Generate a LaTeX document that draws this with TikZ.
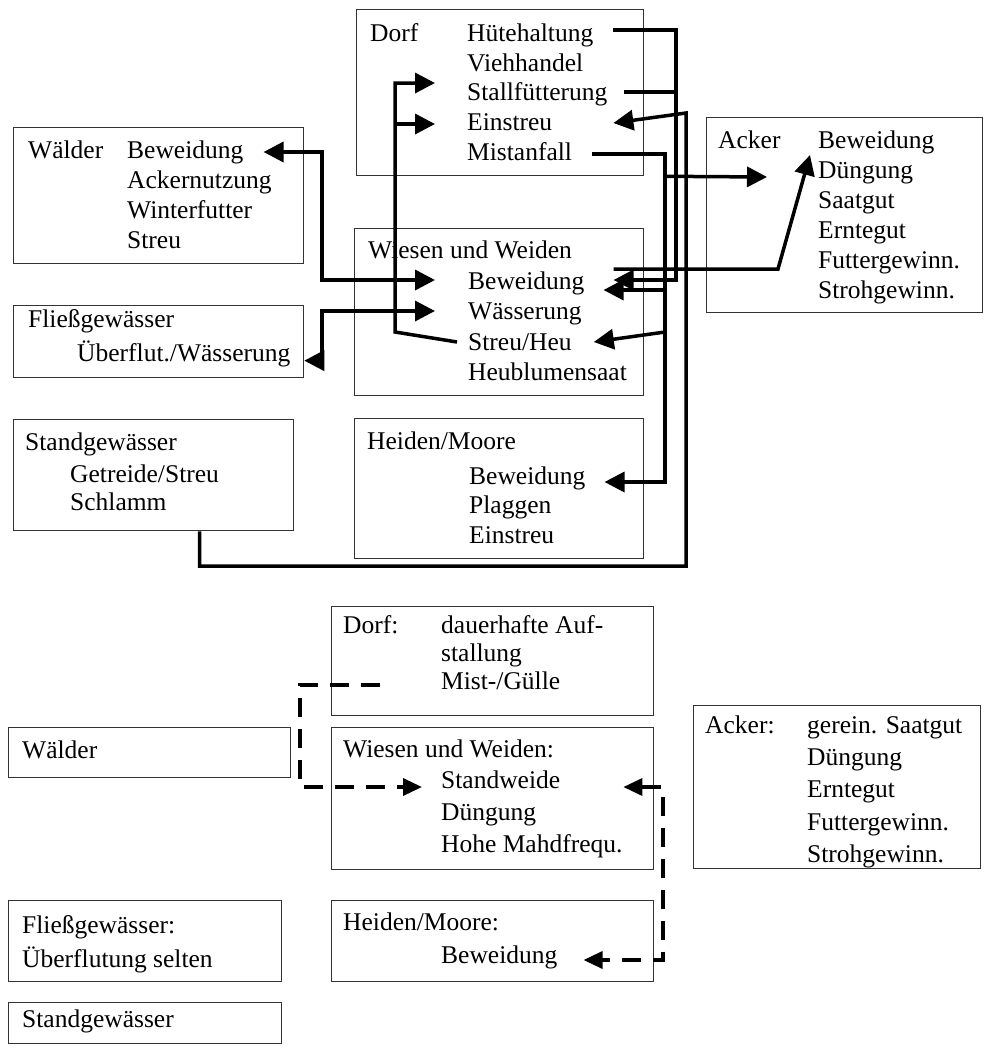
\documentclass[tikz,border=0pt]{standalone}
\usepackage{fontspec}
\setmainfont{Liberation Serif}
\usetikzlibrary{arrows.meta}
\begin{document}
\begin{tikzpicture}[x=1pt,y=-1pt,
  box/.style={draw=black!80, line width=1.3pt, anchor=north west, inner sep=0pt},
  txt/.style={anchor=base west, inner sep=0pt, text height=18pt, text depth=6pt, font=\fontsize{25.5pt}{30pt}\selectfont},
  wire/.style={line width=3.5pt},
  conn/.style={wire, -{Triangle[length=20pt,width=20pt]}},
  conn2/.style={wire, {Triangle[length=20pt,width=20pt]}-{Triangle[length=20pt,width=20pt]}},
  dconn2/.style={line width=3.5pt, dash pattern=on 19pt off 12pt, {Triangle[length=19pt,width=17pt]}-{Triangle[length=19pt,width=17pt]}},
  dconn/.style={line width=3.5pt, dash pattern=on 19pt off 12pt, -{Triangle[length=19pt,width=17pt]}}
]
\useasboundingbox (0,0) rectangle (984,1053);

% ---------------- upper part: boxes ----------------
\node[box, minimum width=287pt, minimum height=166pt] (dorfBox) at (356,9) {};
\node[box, minimum width=289pt, minimum height=167pt] (wiesBox) at (354,228) {};
\node[box, minimum width=289pt, minimum height=140pt] (heidBox) at (354,418) {};
\node[box, minimum width=276pt, minimum height=195pt] (ackBox) at (706,117) {};
\node[box, minimum width=290pt, minimum height=136pt] (waldBox) at (13,127) {};
\node[box, minimum width=290pt, minimum height=72pt] (fliBox) at (13,305) {};
\node[box, minimum width=280pt, minimum height=111pt] (stBox) at (13,419) {};

% Dorf
\node[txt] (dTit) at (370,41) {Dorf};
\node[txt] (dHue) at (467,41) {Hütehaltung};
\node[txt] (dVie) at (467,71) {Viehhandel};
\node[txt] (dSta) at (467,100) {Stallfütterung};
\node[txt] (dEin) at (467,130) {Einstreu};
\node[txt] (dMis) at (467,160) {Mistanfall};
% Wiesen
\node[txt] (wTit) at (368,258) {Wiesen und Weiden};
\node[txt] (wBew) at (468,289) {Beweidung};
\node[txt] (wWas) at (468,319) {Wässerung};
\node[txt] (wStr) at (468,350) {Streu/Heu};
\node[txt] (wHeu) at (468,380) {Heublumensaat};
% Heiden
\node[txt] (hTit) at (367,449) {Heiden/Moore};
\node[txt] (hBew) at (469,484) {Beweidung};
\node[txt] (hPla) at (469,513) {Plaggen};
\node[txt] (hEin) at (469,543) {Einstreu};
% Acker
\node[txt] (aTit) at (718,148) {Acker};
\node[txt] (aBew) at (818,148) {Beweidung};
\node[txt] (aDue) at (818,178) {Düngung};
\node[txt] (aSaa) at (818,208) {Saatgut};
\node[txt] (aErn) at (818,238) {Erntegut};
\node[txt] (aFut) at (818,268) {Futtergewinn.};
\node[txt] (aStr) at (818,298) {Strohgewinn.};
% Waelder
\node[txt] (wlTit) at (28,158) {Wälder};
\node[txt] (wlBew) at (127,158) {Beweidung};
\node[txt] (wlAck) at (127,188) {Ackernutzung};
\node[txt] (wlWin) at (127,218) {Winterfutter};
\node[txt] (wlStr) at (127,248) {Streu};
% Fliessgewaesser
\node[txt] (fTit) at (28,327) {Fließgewässer};
\node[txt] (fUeb) at (77,361) {Überflut./Wässerung};
% Standgewaesser
\node[txt] (sTit) at (25,450) {Standgewässer};
\node[txt] (sGet) at (70,482) {Getreide/Streu};
\node[txt] (sSch) at (70,510) {Schlamm};

% ---------------- upper part: connector points ----------------
\coordinate (tM) at (665,0);   % Mistanfall trunk
\coordinate (tH) at (676,0);   % Huetehaltung trunk
\coordinate (tS) at (686,0);   % Standgewaesser trunk
\coordinate (tL) at (395,0);   % Streu trunk
\coordinate (tW) at (322,0);   % Waelder trunk

\coordinate (hueS) at ([xshift=20pt,yshift=5pt]dHue.east);
\coordinate (staS) at ([xshift=16pt,yshift=2pt]dSta.east);
\coordinate (misS) at ([xshift=20pt]dMis.east);
\coordinate (dStaT) at ([xshift=-32pt,yshift=11pt]dSta.west);
\coordinate (dEinT) at ([xshift=-32pt]dEin.west);
\coordinate (dEinR) at ([xshift=61pt,yshift=1pt]dEin.east);
\coordinate (wBewU) at ([xshift=29pt,yshift=3pt]wBew.east);
\coordinate (wBewD) at ([xshift=19pt,yshift=-7pt]wBew.east);
\coordinate (wBewA) at ([xshift=29pt,yshift=14pt]wBew.east);
\coordinate (wBewL) at ([xshift=-33pt,yshift=3pt]wBew.west);
\coordinate (wWasL) at ([xshift=-33pt,yshift=2pt]wWas.west);
\coordinate (wStrR) at ([xshift=22pt,yshift=2pt]wStr.east);
\coordinate (wStrL) at ([xshift=-11pt,yshift=2pt]wStr.west);
\coordinate (hBewT) at ([xshift=19pt,yshift=-4pt]hBew.east);
\coordinate (aDueT) at ([xshift=-51pt,yshift=-5pt]aDue.west);
\coordinate (aBewT) at ([xshift=-8pt,yshift=17pt]aDue.west);
\coordinate (wlBewT) at ([xshift=20pt]wlBew.east);
\coordinate (fliT) at ([yshift=-19pt]fliBox.east);
\coordinate (stOut) at ([xshift=46pt]stBox.south);

% Huetehaltung + Stallfuetterung -> Wiesen Beweidung
\draw[conn] (hueS) -| (tH |- wBewU) -- (wBewU);
\draw[wire] (staS) -- (tH |- staS);
% Mistanfall -> Acker, Wiesen, Heiden
\draw[conn] (misS) -| (tM |- hBewT) -- (hBewT);
\draw[conn] (tM |- dorfBox.south) -- (aDueT);
\draw[conn] (tM |- wBewD) -- (wBewD);
\draw[conn] (tM |- 0,332) -- (wStrR);
% Standgewaesser -> Dorf Einstreu
\draw[conn] (stOut) |- (tS |- 0,566) -- (tS |- 0,113) -- (dEinR);
% Wiesen Beweidung -> Acker
\draw[conn] (wBewA) -- (778,269) -- (aBewT);
% Streu/Heu -> Dorf
\draw[conn] (wStrL) -- (tL |- 0,332) -- (tL |- dStaT) -- (dStaT);
\draw[conn] (tL |- dEinT) -- (dEinT);
% Waelder <-> Wiesen
\draw[conn2] (wlBewT) -| (tW |- wBewL) -- (wBewL);
% Fliessgewaesser <-> Wiesen Waesserung
\draw[conn2] (fliT) -- (tW |- fliT) |- (wWasL);

% ---------------- lower part ----------------
\node[box, minimum width=322pt, minimum height=109pt] (dorf2) at (331,606) {};
\node[box, minimum width=322pt, minimum height=142pt] (wies2) at (331,727) {};
\node[box, minimum width=322pt, minimum height=81pt] (heid2) at (331,900) {};
\node[box, minimum width=287pt, minimum height=163pt] (ack2) at (693,705) {};
\node[box, minimum width=282pt, minimum height=50pt] (wald2) at (8,727) {};
\node[box, minimum width=273pt, minimum height=81pt] (fli2) at (8,900) {};
\node[box, minimum width=273pt, minimum height=41pt] (st2) at (8,1002) {};

\node[txt] (d2Tit) at (343,633) {Dorf:};
\node[txt] (d2a) at (441,633) {dauerhafte Auf-};
\node[txt] (d2b) at (441,661) {stallung};
\node[txt] (d2c) at (441,689) {Mist-/Gülle};

\node[txt] (w2Tit) at (343,757) {Wiesen und Weiden:};
\node[txt] (w2a) at (441,788) {Standweide};
\node[txt] (w2b) at (441,820) {Düngung};
\node[txt] (w2c) at (441,852) {Hohe Mahdfrequ.};

\node[txt] (h2Tit) at (343,930) {Heiden/Moore:};
\node[txt] (h2a) at (441,963) {Beweidung};

\node[txt] (a2Tit) at (705,733) {Acker:};
\node[txt] (a2a) at (807,733) {gerein. Saatgut};
\node[txt] (a2b) at (807,765) {Düngung};
\node[txt] (a2c) at (807,797) {Erntegut};
\node[txt] (a2d) at (807,830) {Futtergewinn.};
\node[txt] (a2e) at (807,862) {Strohgewinn.};

\node[txt] (wl2) at (22,758) {Wälder};
\node[txt] (f2a) at (22,933) {Fließgewässer:};
\node[txt] (f2b) at (22,967) {Überflutung selten};
\node[txt] (s2) at (22,1027) {Standgewässer};

\coordinate (d2S) at ([xshift=-61pt,yshift=-2pt]d2c.west);
\coordinate (tD) at (300,0);
\coordinate (tR) at (663,0);
\coordinate (w2aL) at ([xshift=-19pt,yshift=-5pt]w2a.west);
\coordinate (w2aR) at ([xshift=63pt,yshift=-5pt]w2a.east);
\coordinate (h2aR) at ([xshift=26pt,yshift=-3pt]h2a.east);

\draw[dconn] (d2S) -| (tD |- w2aL) -- (w2aL);
\draw[dconn2] (w2aR) -- (tR |- w2aR) |- (h2aR);

\end{tikzpicture}
\end{document}
